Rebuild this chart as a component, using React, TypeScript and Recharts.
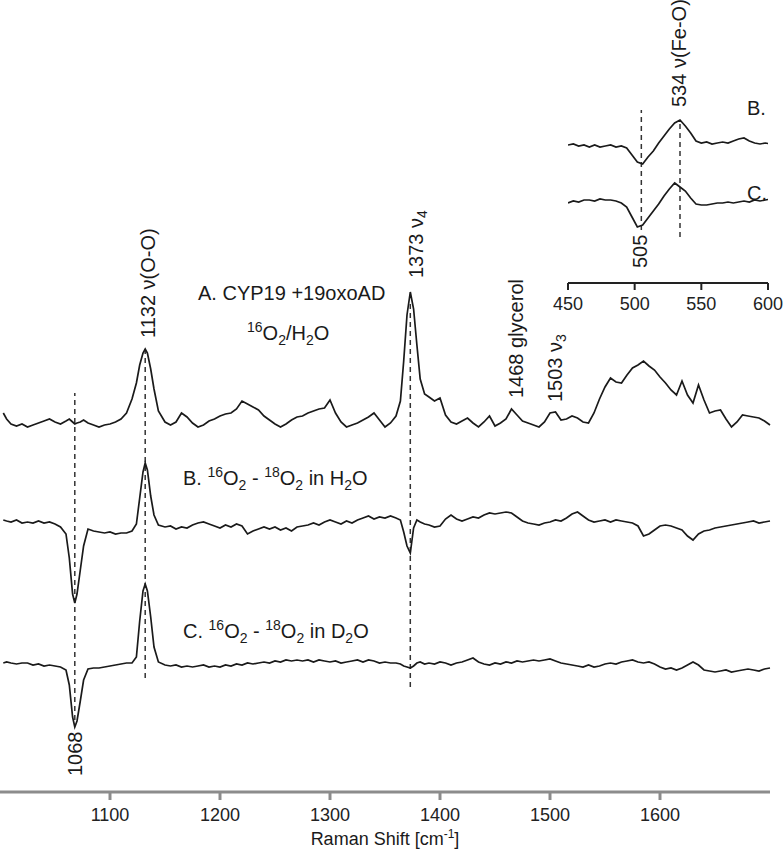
import { LineChart, Line, XAxis, YAxis, ReferenceLine } from "recharts";

// Raman shift grid (cm-1), denser around the three marked bands
const wavenumbers = [
  1003, 1006, 1010, 1015, 1020, 1025, 1030, 1035, 1040, 1045, 1050, 1055,
  1060, 1063, 1066, 1068, 1070, 1073, 1076, 1080,
  1085, 1090, 1095, 1100, 1105, 1110, 1115, 1120,
  1124, 1127, 1130, 1132, 1134, 1137, 1140, 1144,
  1150, 1155, 1160, 1165, 1170, 1175, 1180, 1185, 1190, 1195,
  1200, 1205, 1210, 1215, 1220, 1225, 1230, 1235, 1240, 1245,
  1250, 1255, 1260, 1265, 1270, 1275, 1280, 1285, 1290, 1295,
  1300, 1305, 1310, 1315, 1320, 1325, 1330, 1335, 1340, 1345,
  1350, 1355, 1360,
  1364, 1367, 1370, 1373, 1376, 1379, 1382, 1386,
  1390, 1395, 1400, 1405, 1410, 1415, 1420, 1425, 1430, 1435,
  1440, 1445, 1450, 1455, 1460, 1465, 1470, 1475, 1480, 1485,
  1490, 1495, 1500, 1505, 1510, 1515, 1520, 1525, 1530, 1535,
  1540, 1545, 1550, 1555, 1560, 1565, 1570, 1575, 1580, 1585,
  1590, 1595, 1600, 1605, 1610, 1615, 1620, 1625, 1630, 1635,
  1640, 1645, 1650, 1655, 1660, 1665, 1670, 1675, 1680, 1685,
  1690, 1695, 1700,
];

// A. CYP19 +19oxoAD, 16O2/H2O
const spectrumA = [
  12, 6, 1, -1, 1, -2, 0, 2, 4, 6, 3, 1,
  4, 6, 3, 1, 2, 3, 5, 2,
  0, -2, 0, 1, 3, 6, 12, 26,
  42, 60, 72, 76, 72, 56, 36, 14,
  3, 0, 3, 12, 8, 2, -2, 0, 4, 6,
  9, 11, 12, 16, 24, 21, 18, 15, 9, 5,
  1, -2, 1, 5, 8, 9, 12, 14, 16, 17,
  25, 12, 3, -2, 0, 2, 5, 8, 12, 5,
  -2, 2, 9,
  24, 64, 110, 133, 116, 80, 46, 31,
  28, 24, 27, 10, 3, 1, 4, 7, 2, -2,
  3, 9, -1, 2, 6, 16, 10, 4, 2, 0,
  -2, 3, 12, 13, 5, 6, 9, 7, 3, 2,
  12, 26, 38, 47, 43, 42, 50, 57, 60, 64,
  59, 55, 48, 42, 35, 30, 44, 30, 22, 40,
  25, 12, 14, 15, 6, -2, 3, 10, 9, 8,
  7, 4, 0,
];

// B. 16O2 - 18O2 in H2O
const spectrumB = [
  2, 1, 0, 2, -1, 0, -1, 1, -1, 0, -2, -5,
  -12, -36, -72, -81, -72, -48, -24, -7,
  -9, -10, -11, -10, -12, -11, -11, -9,
  -2, 24, 50, 59, 52, 26, 7, -3,
  -5, -4, -7, -5, -6, -3, -1, 0, -2, -4,
  -6, -3, -5, -2, -4, -12, -9, -7, -5, -7,
  -5, -8, -6, -9, -5, -4, -3, -1, -3, 0,
  2, 0, -2, 1, -1, 2, 4, 6, 3, 5,
  4, 6, 4,
  2, -10, -24, -31, -6, 2, 0, -2,
  -3, -5, -4, 3, 7, 3, 1, 3, 5, 4,
  7, 9, 8, 9, 10, 9, 5, 1, -1, -2,
  -3, -1, 0, 2, 1, 4, 8, 10, 6, 2,
  0, 1, 2, 0, 2, 1, 0, -1, -4, -14,
  -12, -8, -4, -3, -4, -6, -8, -14, -18, -12,
  -9, -8, -6, -5, -4, -3, -2, -1, 0, 1,
  -1, 0, 1,
];

// C. 16O2 - 18O2 in D2O
const spectrumC = [
  2, 3, 2, 1, 2, 2, 0, 1, -1, 0, -1, -2,
  -5, -20, -52, -62, -56, -36, -15, -4,
  -3, -3, -2, -1, 0, 1, 2, 2,
  8, 44, 74, 81, 74, 48, 18, 3,
  0, -1, 0, -2, -1, -2, -1, 0, -2, -1,
  -2, 0, -1, 1, 0, 2, 1, 2, 3, 2,
  4, 3, 5, 4, 5, 4, 5, 3, 5, 4,
  3, 4, 2, 3, 4, 5, 3, 5, 4, 2,
  3, 2, 2,
  1, -1, -2, -3, -1, 2, 3, 1,
  2, 1, 3, 2, 0, 2, 3, 5, 7, 3,
  1, 0, 2, 1, 3, 2, 4, 3, 4, 5,
  4, 5, 6, 4, 2, 1, 0, -1, -2, 0,
  -2, -1, 1, 2, 1, 3, 4, 5, 3, 2,
  3, 1, -2, -4, -3, -5, -3, 0, 3, 0,
  -5, -6, -7, -6, -5, -7, -6, -5, -4, -5,
  -6, -4, -3,
];

// inset: low-frequency region
const insetWavenumbers = [
  450, 454, 458, 462, 466, 470, 474, 478, 482, 486,
  490, 494, 498, 502, 506, 510, 514, 518, 522, 526,
  530, 534, 538, 542, 546, 550, 554, 558, 562, 566,
  570, 574, 578, 582, 586, 590, 594, 598, 602,
];
const insetB = [
  0, 1, -1, 0, -2, 0, -2, -1, 0, -2,
  -1, -3, -10, -17, -19, -12, -6, 2, 9, 16,
  22, 25, 19, 12, 4, 2, 3, 1, 2, 3,
  2, 4, 6, 7, 4, 2, 1, 2, 1,
];
const insetC = [
  0, 2, 1, 3, 3, 2, 4, 3, 3, 2,
  0, -4, -14, -24, -22, -15, -8, -1, 7, 14,
  20, 16, 12, 5, -1, -2, -2, -1, 0, 0,
  1, 0, 1, 2, 1, 3, 2, 3, 4,
];

const mainTicks = [1100, 1200, 1300, 1400, 1500, 1600];
const insetTicks = [450, 500, 550, 600];

// vertical stacking offsets (intensity units)
const OFFSET_A = 367;
const OFFSET_B = 270;
const OFFSET_C = 127;
const INSET_OFFSET_B = 138;
const INSET_OFFSET_C = 80;

const mainData = wavenumbers.map((w, i) => ({
  w,
  a: OFFSET_A + spectrumA[i],
  b: OFFSET_B + spectrumB[i],
  c: OFFSET_C + spectrumC[i],
}));

const insetData = insetWavenumbers.map((w, i) => ({
  w,
  b: INSET_OFFSET_B + insetB[i],
  c: INSET_OFFSET_C + insetC[i],
}));

const FONT = "'Liberation Sans', Arial, Helvetica, sans-serif";
const INK = "#1a1a1a";
const DASH = "5 4";
const LW = 1.7;

function Annotations() {
  const big = 20;
  const small = 14;
  return (
    <svg
      width={783}
      height={852}
      style={{ position: "absolute", left: 0, top: 0, pointerEvents: "none" }}
      fontFamily={FONT}
      fill={INK}
    >
      <text transform="translate(155,338) rotate(-90)" fontSize={big}>
        1132 ν(O-O)
      </text>
      <text transform="translate(423,278) rotate(-90)" fontSize={big}>
        1373 ν<tspan fontSize={small} dy={4}>4</tspan>
      </text>
      <text transform="translate(523,398) rotate(-90)" fontSize={big}>
        1468 glycerol
      </text>
      <text transform="translate(562,402) rotate(-90)" fontSize={big}>
        1503 ν<tspan fontSize={small} dy={4}>3</tspan>
      </text>
      <text transform="translate(82,776) rotate(-90)" fontSize={big}>
        1068
      </text>
      <text transform="translate(686,107) rotate(-90)" fontSize={big}>
        534 ν(Fe-O)
      </text>
      <text transform="translate(647,268) rotate(-90)" fontSize={big}>
        505
      </text>

      <text x={198} y={300} fontSize={big}>
        A. CYP19 +19oxoAD
      </text>
      <text x={247} y={340} fontSize={big}>
        <tspan fontSize={small} dy={-8}>16</tspan>
        <tspan dy={8}>O</tspan>
        <tspan fontSize={small} dy={5}>2</tspan>
        <tspan dy={-5}>/H</tspan>
        <tspan fontSize={small} dy={5}>2</tspan>
        <tspan dy={-5}>O</tspan>
      </text>
      <text x={183} y={485} fontSize={big}>
        <tspan>B. </tspan>
        <tspan fontSize={small} dy={-8}>16</tspan>
        <tspan dy={8}>O</tspan>
        <tspan fontSize={small} dy={5}>2</tspan>
        <tspan dy={-5}> - </tspan>
        <tspan fontSize={small} dy={-8}>18</tspan>
        <tspan dy={8}>O</tspan>
        <tspan fontSize={small} dy={5}>2</tspan>
        <tspan dy={-5}> in H</tspan>
        <tspan fontSize={small} dy={5}>2</tspan>
        <tspan dy={-5}>O</tspan>
      </text>
      <text x={183} y={638} fontSize={big}>
        <tspan>C. </tspan>
        <tspan fontSize={small} dy={-8}>16</tspan>
        <tspan dy={8}>O</tspan>
        <tspan fontSize={small} dy={5}>2</tspan>
        <tspan dy={-5}> - </tspan>
        <tspan fontSize={small} dy={-8}>18</tspan>
        <tspan dy={8}>O</tspan>
        <tspan fontSize={small} dy={5}>2</tspan>
        <tspan dy={-5}> in D</tspan>
        <tspan fontSize={small} dy={5}>2</tspan>
        <tspan dy={-5}>O</tspan>
      </text>

      <text x={747} y={115} fontSize={big}>
        B.
      </text>
      <text x={747} y={200} fontSize={big}>
        C.
      </text>

      <text x={385} y={845} fontSize={18} textAnchor="middle">
        Raman Shift [cm<tspan fontSize={12} dy={-7}>-1</tspan>
        <tspan dy={7}>]</tspan>
      </text>
    </svg>
  );
}

export default function App() {
  return (
    <div
      style={{
        position: "absolute",
        left: 0,
        top: 0,
        width: 783,
        height: 852,
        background: "#fff",
        fontFamily: FONT,
      }}
    >
      <LineChart
        width={783}
        height={852}
        data={mainData}
        margin={{ top: 0, right: 13, left: 0, bottom: 0 }}
      >
        <XAxis
          dataKey="w"
          type="number"
          domain={[1000, 1700]}
          ticks={mainTicks}
          height={60}
          axisLine={{ stroke: "#8c8c8c", strokeWidth: 3 }}
          tickLine={{ stroke: "#8c8c8c", strokeWidth: 3 }}
          tickSize={8}
          tickMargin={8}
          tick={{ fill: "#222", fontSize: 18, fontFamily: FONT }}
        />
        <YAxis hide type="number" domain={[0, 792]} />
        <ReferenceLine
          segment={[{ x: 1068, y: 72 }, { x: 1068, y: 399 }]}
          stroke="#333"
          strokeWidth={1.5}
          strokeDasharray={DASH}
        />
        <ReferenceLine
          segment={[{ x: 1132, y: 114 }, { x: 1132, y: 443 }]}
          stroke="#333"
          strokeWidth={1.5}
          strokeDasharray={DASH}
        />
        <ReferenceLine
          segment={[{ x: 1373, y: 105 }, { x: 1373, y: 492 }]}
          stroke="#333"
          strokeWidth={1.5}
          strokeDasharray={DASH}
        />
        <Line dataKey="a" type="linear" stroke={INK} strokeWidth={LW} dot={false} activeDot={false} isAnimationActive={false} />
        <Line dataKey="b" type="linear" stroke={INK} strokeWidth={LW} dot={false} activeDot={false} isAnimationActive={false} />
        <Line dataKey="c" type="linear" stroke={INK} strokeWidth={LW} dot={false} activeDot={false} isAnimationActive={false} />
      </LineChart>

      <div style={{ position: "absolute", left: 548, top: 0 }}>
        <LineChart
          width={235}
          height={320}
          data={insetData}
          margin={{ top: 0, right: 15, left: 20, bottom: 0 }}
        >
          <XAxis
            dataKey="w"
            type="number"
            domain={[450, 600]}
            allowDataOverflow
            ticks={insetTicks}
            height={37}
            axisLine={{ stroke: "#222", strokeWidth: 2 }}
            tickLine={{ stroke: "#222", strokeWidth: 2 }}
            tickSize={7}
            tickMargin={7}
            tick={{ fill: "#222", fontSize: 18, fontFamily: FONT }}
          />
          <YAxis hide type="number" domain={[0, 283]} />
          <ReferenceLine
            segment={[{ x: 505, y: 53 }, { x: 505, y: 173 }]}
            stroke="#333"
            strokeWidth={1.5}
            strokeDasharray={DASH}
          />
          <ReferenceLine
            segment={[{ x: 534, y: 46 }, { x: 534, y: 163 }]}
            stroke="#333"
            strokeWidth={1.5}
            strokeDasharray={DASH}
          />
          <Line dataKey="b" type="linear" stroke={INK} strokeWidth={LW} dot={false} activeDot={false} isAnimationActive={false} />
          <Line dataKey="c" type="linear" stroke={INK} strokeWidth={LW} dot={false} activeDot={false} isAnimationActive={false} />
        </LineChart>
      </div>

      <Annotations />
    </div>
  );
}
